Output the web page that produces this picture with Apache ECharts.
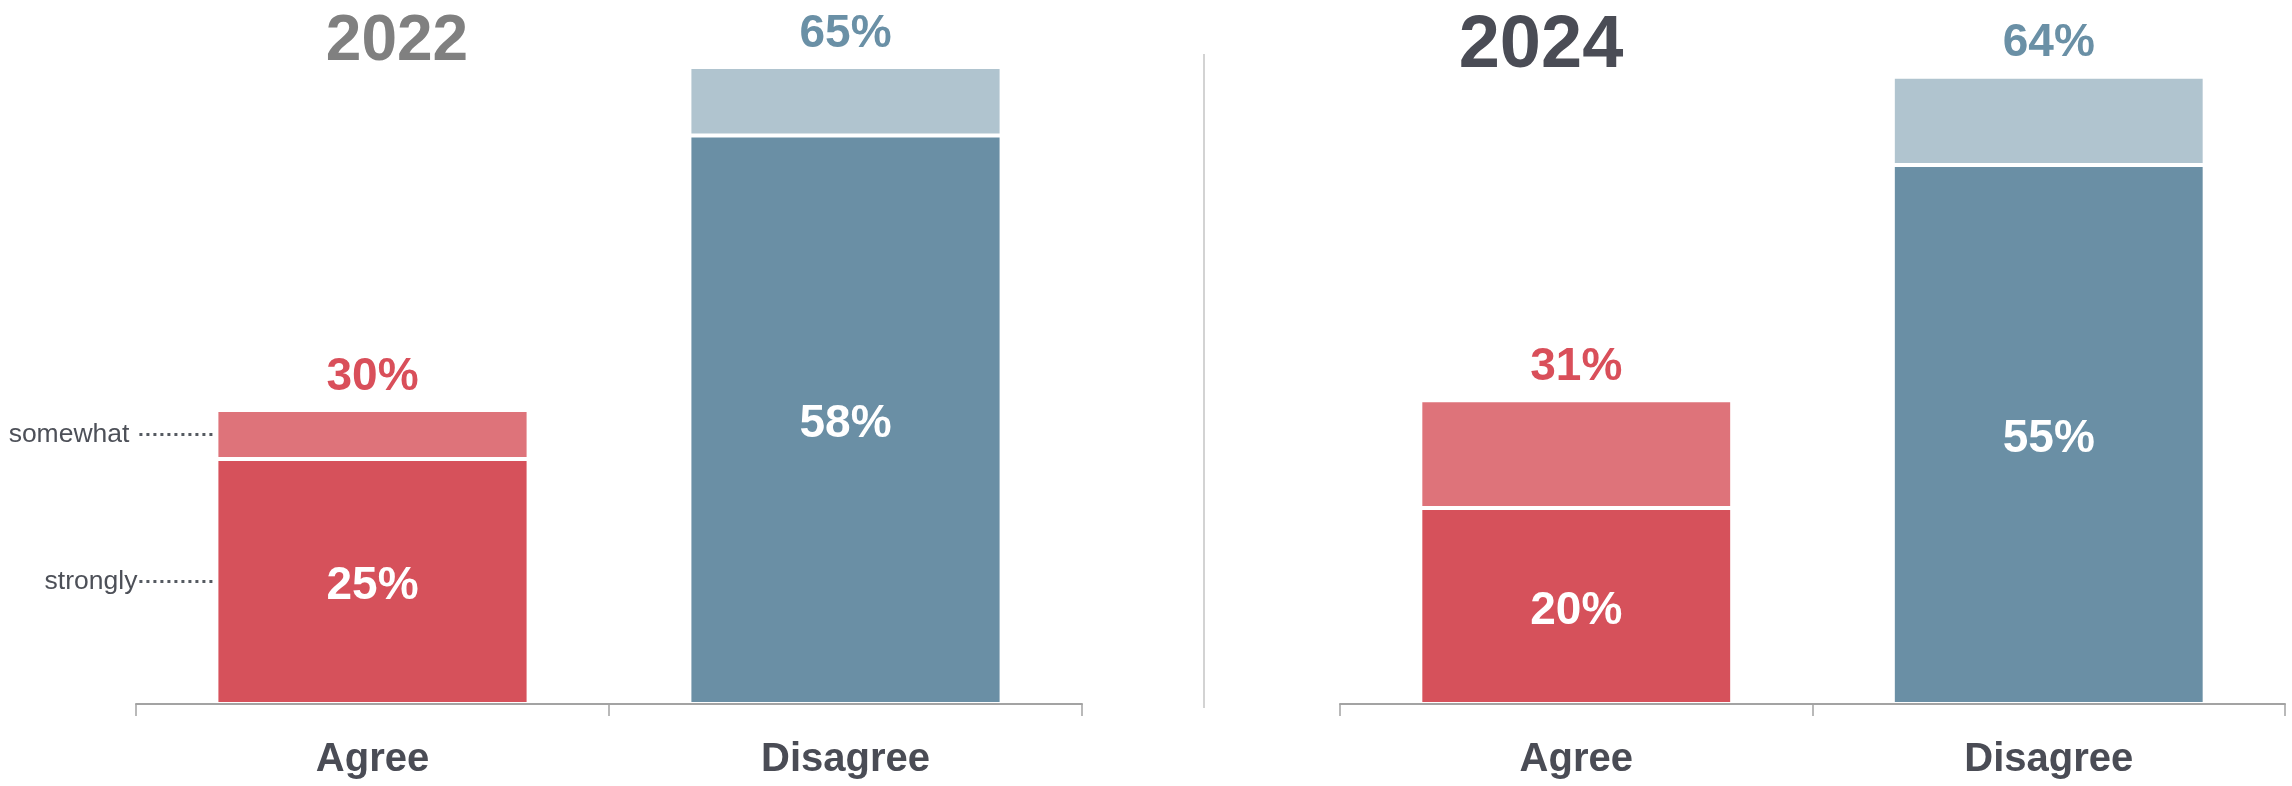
<!DOCTYPE html>
<html><head><meta charset="utf-8">
<script src="https://cdn.jsdelivr.net/npm/echarts@6/dist/echarts.min.js"></script>
<style>html,body{margin:0;padding:0;background:#fff}#c{width:2292px;height:786px}</style>
</head><body><div id="c"></div>
<script>
// ---- data ----
const categories = ['Agree', 'Disagree'];
const years = ['2022', '2024'];
const strongly2022 = [25, 58];
const somewhat2022 = [5, 7];
const totals2022 = [30, 65];
const strongly2024 = [20, 55];
const somewhat2024 = [11, 9];
const totals2024 = [31, 64];
const annotationLabels = ['somewhat', 'strongly'];

// ---- styles ----
const FONT = '"Liberation Sans", Arial, Helvetica, sans-serif';
const strongColors = ['#d6515b', '#6a8fa5'];
const softColors = ['#de737a', '#b0c4cf'];
const totalLabelColors = ['#d94f5a', '#6a90a6'];
const titleColors = ['#808080', '#4a4c55'];
const titleSizes = [64, 74];
const titleCenters = [397, 1541];
const titleTops = [10, 10];
const annotationGap = [87, 79];
const grids = [
  {left: 136, width: 946, top: 18, height: 686},
  {left: 1340, width: 945, top: 18, height: 686}
];

const chart = echarts.init(document.getElementById('c'), null, {renderer: 'canvas'});

function buildSeries(gi, strongly, somewhat, totals) {
  return [
    {
      type: 'bar', name: 'strongly', stack: 's' + gi, xAxisIndex: gi, yAxisIndex: gi,
      barWidth: '66%',
      data: strongly.map((v, i) => ({value: v, itemStyle: {color: strongColors[i]}})),
      itemStyle: {borderColor: '#fff', borderWidth: 2},
      label: {show: true, position: 'inside', offset: [0, 5], formatter: '{c}%', color: '#fff',
        fontFamily: FONT, fontWeight: 'bold', fontSize: 46},
      emphasis: {disabled: true}
    },
    {
      type: 'bar', name: 'somewhat', stack: 's' + gi, xAxisIndex: gi, yAxisIndex: gi,
      barWidth: '66%',
      data: somewhat.map((v, i) => ({value: v, itemStyle: {color: softColors[i]},
        label: {color: totalLabelColors[i]}})),
      itemStyle: {borderColor: '#fff', borderWidth: 2},
      label: {show: true, position: 'top', distance: 10,
        formatter: p => totals[p.dataIndex] + '%',
        fontFamily: FONT, fontWeight: 'bold', fontSize: 46},
      emphasis: {disabled: true}
    }
  ];
}

const xAxes = grids.map((g, gi) => ({
  type: 'category', gridIndex: gi, data: categories, z: 10,
  axisLine: {lineStyle: {color: '#a3a3a3', width: 2}},
  axisTick: {show: true, length: 12, lineStyle: {color: '#a3a3a3', width: 1.5}},
  axisLabel: {fontFamily: FONT, fontWeight: 'bold', fontSize: 40, color: '#4a4c55', margin: 36},
  splitLine: {show: false}
}));
const yAxes = grids.map((g, gi) => ({
  type: 'value', gridIndex: gi, min: 0, max: 70, show: false
}));

chart.setOption({
  animation: false,
  backgroundColor: '#fff',
  title: years.map((y, i) => ({
    text: y, left: titleCenters[i], top: titleTops[i], textAlign: 'center', padding: 0,
    textStyle: {fontFamily: FONT, fontWeight: 'bold', fontSize: titleSizes[i], color: titleColors[i]}
  })),
  grid: grids,
  xAxis: xAxes,
  yAxis: yAxes,
  series: [
    ...buildSeries(0, strongly2022, somewhat2022, totals2022),
    ...buildSeries(1, strongly2024, somewhat2024, totals2024)
  ]
});

// annotations computed through the axes' scales
const cxA = chart.convertToPixel({xAxisIndex: 0}, categories[0]);
const cxD = chart.convertToPixel({xAxisIndex: 0}, categories[1]);
const band = cxD - cxA;
const barLeft = cxA - band * 0.33;
const ySomewhat = chart.convertToPixel({yAxisIndex: 0}, strongly2022[0] + somewhat2022[0] / 2);
const yStrongly = chart.convertToPixel({yAxisIndex: 0}, strongly2022[0] / 2);
const annY = [ySomewhat, yStrongly];
const graphics = [];
annotationLabels.forEach((t, i) => {
  graphics.push({
    type: 'line', silent: true,
    shape: {x1: barLeft - 77, y1: annY[i], x2: barLeft, y2: annY[i]},
    style: {stroke: '#555a61', lineWidth: 3, lineDash: [3, 4]}
  });
  graphics.push({
    type: 'text', silent: true,
    style: {text: t, x: barLeft - annotationGap[i], y: annY[i], align: 'right', verticalAlign: 'middle',
      font: '26.5px ' + FONT, fill: '#4d5058'}
  });
});
// separator between the two panels
graphics.push({
  type: 'line', silent: true,
  shape: {x1: 1204, y1: 54, x2: 1204, y2: 708},
  style: {stroke: '#d3d3d3', lineWidth: 2}
});
chart.setOption({graphic: graphics});
</script>
</body></html>
